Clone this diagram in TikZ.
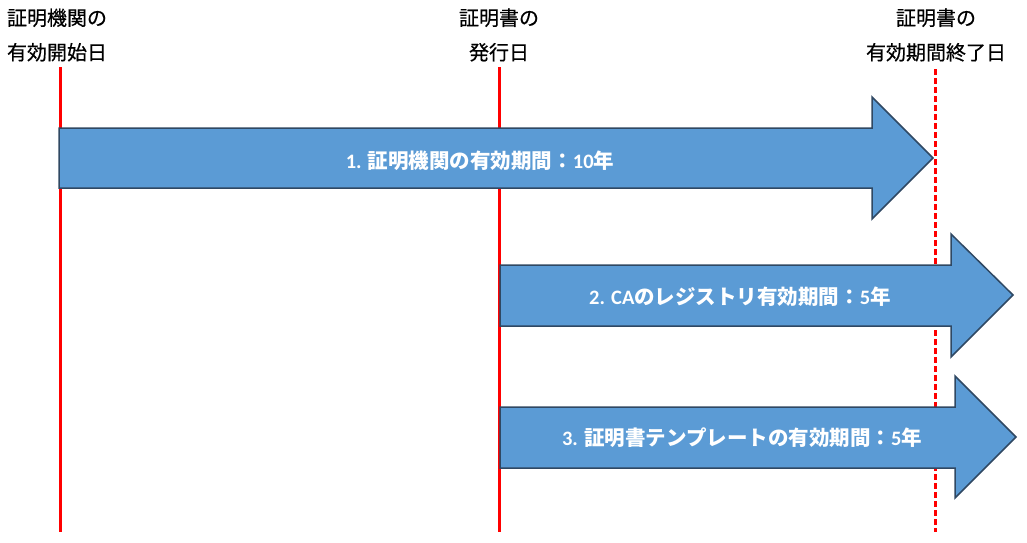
\documentclass[tikz,border=0pt]{standalone}
\usepackage{fontspec}
\setmainfont{Carlito}
\newfontfamily\jp{Noto Sans CJK JP}
\newfontfamily\jpm[FakeBold=0.5]{Noto Sans CJK JP}
\newcommand\jb[1]{{\jp\bfseries #1}}
\definecolor{arrowfill}{RGB}{91,155,213}
\definecolor{arrowline}{RGB}{47,72,99}
\tikzset{
 redline/.style={draw=red, line width=3pt},
 reddash/.style={draw=red, line width=3pt, dash pattern=on 6pt off 3pt},
 bigarrow/.style={fill=arrowfill, draw=arrowline, line width=1.5pt, line join=miter},
 arrowlabel/.style={text=white, font=\bfseries\fontsize{20.5}{24}\selectfont, inner sep=0pt, anchor=base},
 datelabel/.style={font=\jpm\fontsize{20}{34.5}\selectfont, align=center, inner sep=0pt}
}
\begin{document}
\begin{tikzpicture}[x=1pt,y=-1pt]
\useasboundingbox (0,0) rectangle (1027,542);
% time lines
\coordinate (s1) at (60,67);  \coordinate (e1) at (60,532);
\coordinate (s2) at (499,67); \coordinate (e2) at (499,532);
\coordinate (s3) at (935,69); \coordinate (e3) at (935,532);
\draw[redline] (s1) -- (e1);
\draw[redline] (s2) -- (e2);
\draw[reddash] (s3) -- (e3);
% date labels
\node[datelabel] (d1) at (57,35) {証明機関の\\有効開始日};
\node[datelabel] (d2) at (499,35) {証明書の\\発行日};
\node[datelabel] (d3) at (936,35) {証明書の\\有効期間終了日};
% arrows
\draw[bigarrow] (59,128) -- (872,128) -- (872,97) -- (933,158) -- (872,219) -- (872,188) -- (59,188) -- cycle;
\draw[bigarrow] (500,265) -- (951,265) -- (951,234) -- (1013,295) -- (951,357) -- (951,326) -- (500,326) -- cycle;
\draw[bigarrow] (500,407) -- (955,407) -- (955,376) -- (1016,437) -- (955,498) -- (955,468) -- (500,468) -- cycle;
% arrow labels
\node[arrowlabel] (a1) at (480,168) {1. \jb{証明機関の有効期間：}10\jb{年}};
\node[arrowlabel] (a2) at (740,304) {2. CA\jb{のレジストリ有効期間：}5\jb{年}};
\node[arrowlabel] (a3) at (742,445) {3. \jb{証明書テンプレートの有効期間：}5\jb{年}};
\end{tikzpicture}
\end{document}
